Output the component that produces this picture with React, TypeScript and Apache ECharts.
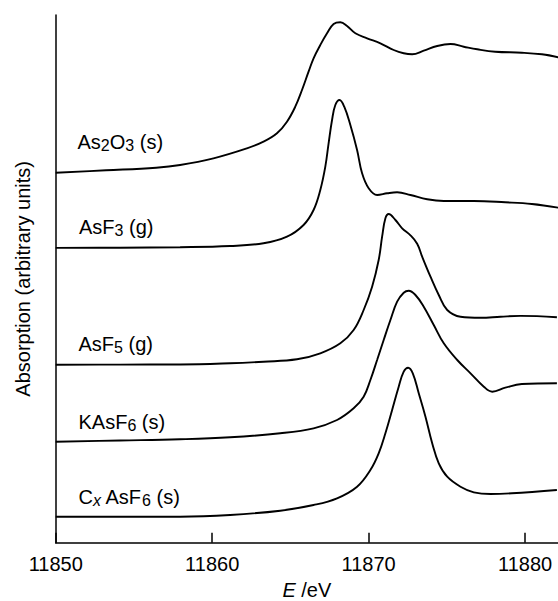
import React, { useEffect, useRef } from 'react';
import * as echarts from 'echarts';

const FONT = '"Liberation Sans", Arial, Helvetica, sans-serif';

// axis
const xTicks = [11850, 11860, 11870, 11880];
const xMin = 11850;
const xMax = 11882.1;
const yMax = 5.277;

// As2O3 (s)
const as2o3E = [11850.0, 11853.22, 11856.42, 11857.95, 11860.08, 11862.22, 11863.28, 11864.14, 11864.78, 11865.31, 11865.74, 11866.16, 11866.48, 11866.91, 11867.34, 11867.76, 11868.19, 11868.62, 11869.15, 11869.9, 11870.75, 11871.6, 11872.24, 11872.78, 11873.52, 11874.38, 11875.23, 11876.08, 11876.94, 11878.09, 11879.79, 11881.07, 11882.14];
const as2o3A = [3.700, 3.724, 3.750, 3.777, 3.844, 3.944, 4.010, 4.094, 4.210, 4.360, 4.527, 4.710, 4.844, 4.977, 5.094, 5.187, 5.204, 5.167, 5.094, 5.044, 4.994, 4.927, 4.894, 4.884, 4.920, 4.967, 4.987, 4.960, 4.934, 4.910, 4.900, 4.884, 4.854];

// AsF3 (g)
const asf3E = [11850.0, 11854.11, 11857.95, 11861.15, 11863.28, 11864.78, 11865.84, 11866.48, 11866.91, 11867.23, 11867.44, 11867.66, 11867.87, 11868.14, 11868.44, 11868.83, 11869.26, 11869.58, 11870.0, 11870.54, 11871.18, 11871.82, 11872.67, 11873.74, 11874.8, 11876.72, 11878.73, 11880.43, 11882.14];
const asf3A = [2.948, 2.950, 2.955, 2.967, 2.994, 3.060, 3.177, 3.327, 3.527, 3.760, 3.994, 4.227, 4.377, 4.427, 4.360, 4.177, 3.927, 3.694, 3.544, 3.477, 3.494, 3.504, 3.477, 3.434, 3.417, 3.417, 3.404, 3.387, 3.350];

// AsF5 (g)
const asf5E = [11850.0, 11854.11, 11857.95, 11861.15, 11863.28, 11865.42, 11866.91, 11868.19, 11869.04, 11869.68, 11870.22, 11870.64, 11870.86, 11871.07, 11871.28, 11871.71, 11872.14, 11872.67, 11873.1, 11873.42, 11873.95, 11874.48, 11875.02, 11875.87, 11877.15, 11878.43, 11879.71, 11882.03];
const asf5A = [1.780, 1.781, 1.782, 1.794, 1.810, 1.834, 1.894, 1.994, 2.127, 2.327, 2.560, 2.827, 3.060, 3.244, 3.287, 3.227, 3.144, 3.074, 2.990, 2.860, 2.660, 2.477, 2.327, 2.260, 2.250, 2.260, 2.268, 2.254];

// KAsF6 (s)
const kasf6E = [11850.0, 11854.11, 11857.95, 11861.15, 11864.35, 11866.48, 11867.98, 11869.04, 11869.68, 11870.11, 11870.54, 11870.96, 11871.39, 11871.82, 11872.24, 11872.56, 11872.99, 11873.52, 11874.16, 11874.8, 11875.66, 11876.51, 11877.36, 11877.9, 11878.73, 11879.79, 11882.03];
const kasf6A = [1.010, 1.022, 1.034, 1.054, 1.094, 1.144, 1.227, 1.344, 1.460, 1.627, 1.827, 2.027, 2.227, 2.410, 2.500, 2.520, 2.477, 2.360, 2.177, 1.994, 1.827, 1.694, 1.560, 1.510, 1.550, 1.587, 1.594];

// CxAsF6 (s)
const cxasf6E = [11850.0, 11854.11, 11857.95, 11861.15, 11864.35, 11866.48, 11867.98, 11869.26, 11870.11, 11870.64, 11871.07, 11871.5, 11871.92, 11872.24, 11872.52, 11872.82, 11873.2, 11873.63, 11874.06, 11874.48, 11875.02, 11875.87, 11876.72, 11877.79, 11879.15, 11882.03];
const cxasf6A = [0.260, 0.260, 0.260, 0.277, 0.320, 0.377, 0.444, 0.560, 0.727, 0.894, 1.094, 1.327, 1.560, 1.710, 1.750, 1.694, 1.494, 1.260, 0.994, 0.794, 0.660, 0.560, 0.504, 0.487, 0.494, 0.527];

const seriesNames = ['As2O3 (s)', 'AsF3 (g)', 'AsF5 (g)', 'KAsF6 (s)', 'CxAsF6 (s)'];
const labelTexts = [
  '{n|As}{s|2}{n|O}{s|3}{n| (s)}',
  '{n|AsF}{s|3}{n| (g)}',
  '{n|AsF}{s|5}{n| (g)}',
  '{n|KAsF}{s|6}{n| (s)}',
  '{n|C}{si|x}{n| AsF}{s|6}{n| (s)}',
];

const zip = (e: number[], a: number[]) => e.map((x, i) => [x, a[i]]);

const seriesData = [
  zip(as2o3E, as2o3A),
  zip(asf3E, asf3A),
  zip(asf5E, asf5A),
  zip(kasf6E, kasf6A),
  zip(cxasf6E, cxasf6A),
];

const rich = {
  n: { fontSize: 20, fontFamily: FONT, lineHeight: 22, fill: '#000', color: '#000' },
  s: { fontSize: 16, fontFamily: FONT, lineHeight: 9, verticalAlign: 'bottom', fill: '#000', color: '#000' },
  si: { fontSize: 16, fontFamily: FONT, fontStyle: 'italic', lineHeight: 9, verticalAlign: 'bottom', fill: '#000', color: '#000' },
};

const labelPos = [
  [77.5, 131],
  [79, 216],
  [78.5, 333],
  [78.5, 411],
  [78.5, 486],
];

export default function App() {
  const ref = useRef<HTMLDivElement>(null);
  useEffect(() => {
    if (!ref.current) return;
    const chart = echarts.init(ref.current, undefined, { renderer: 'svg' });
    chart.setOption({
      animation: false,
      backgroundColor: '#fff',
      grid: { left: 55.7, right: 0, top: 15, bottom: 58.3, containLabel: false, outerBoundsMode: 'none' },
      xAxis: {
        type: 'value',
        min: xMin,
        max: xMax,
        interval: 10,
        name: '{i|E}{n| /eV}',
        nameLocation: 'middle',
        nameGap: 37,
        nameTextStyle: {
          rich: {
            i: { fontSize: 20, fontFamily: FONT, fontStyle: 'italic', color: '#000' },
            n: { fontSize: 20, fontFamily: FONT, color: '#000' },
          },
        },
        axisLine: { show: true, lineStyle: { color: '#000', width: 1.5 } },
        axisTick: { show: true, inside: true, length: 10, customValues: xTicks, lineStyle: { color: '#000', width: 1.5 } },
        axisLabel: {
          show: true,
          customValues: xTicks,
          formatter: (v: number) => String(v),
          fontSize: 20,
          fontFamily: FONT,
          color: '#000',
          margin: 11,
        },
        splitLine: { show: false },
      },
      yAxis: {
        type: 'value',
        min: 0,
        max: yMax,
        name: 'Absorption (arbitrary units)',
        nameLocation: 'middle',
        nameRotate: 90,
        nameGap: 23,
        nameTextStyle: { fontSize: 20, fontFamily: FONT, color: '#000' },
        axisLine: { show: true, lineStyle: { color: '#000', width: 1.5 } },
        axisTick: { show: false },
        axisLabel: { show: false },
        splitLine: { show: false },
      },
      series: seriesData.map((d, i) => ({
        name: seriesNames[i],
        type: 'line',
        data: d,
        showSymbol: false,
        smooth: 0.4,
        lineStyle: { color: '#000', width: 1.9 },
        clip: true,
      })),
      graphic: labelTexts.map((t, i) => ({
        type: 'text',
        x: labelPos[i][0],
        y: labelPos[i][1],
        style: { text: t, rich, fill: '#000', align: 'left', verticalAlign: 'top', font: `20px ${FONT}` },
      })),
    });
    return () => chart.dispose();
  }, []);
  return (
    <div
      ref={ref}
      style={{ position: 'absolute', left: 0, top: 0, width: 558, height: 601, background: '#fff' }}
    />
  );
}
